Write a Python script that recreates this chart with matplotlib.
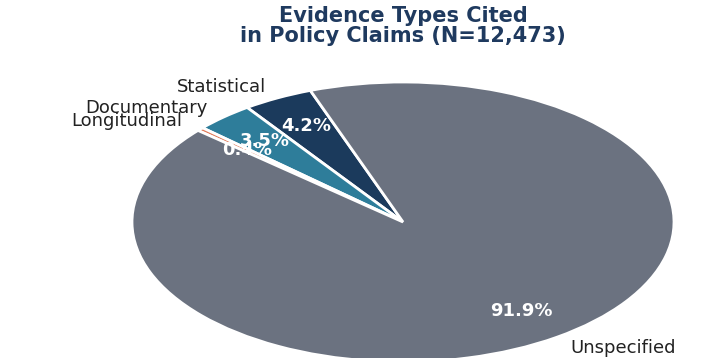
import matplotlib.pyplot as plt

labels = ['Statistical', 'Documentary', 'Longitudinal', 'Unspecified']
shares = [4.2, 3.5, 0.4, 91.9]
colors = ['#1b3a5c', '#2e7d9a', '#e07b5a', '#6b7280']

fig = plt.figure(figsize=(7.28, 3.58), dpi=100)
# pie box: centre (403, 222) px, radii 271 x 140 px
ax = fig.add_axes([(403 - 1.25 * 271) / 728, (358 - 222 - 1.25 * 140) / 358,
                   2.5 * 271 / 728, 2.5 * 140 / 358])

wedges, texts, autotexts = ax.pie(
    shares, labels=labels, colors=colors, startangle=110,
    autopct='%1.1f%%', pctdistance=0.77, labeldistance=1.09,
    wedgeprops=dict(edgecolor='white', linewidth=2),
    textprops=dict(fontsize=13, color='#222222'))
for t in autotexts:
    t.set_color('white')
    t.set_fontweight('bold')
    t.set_fontsize(13)

# stretched pie: let the axes aspect follow the box
ax.set_aspect('auto')
ax.set_xlim(-1.25, 1.25)
ax.set_ylim(-1.25, 1.25)
ax.axis('off')

fig.text(403 / 728, 1 - 26 / 358, 'Evidence Types Cited\nin Policy Claims (N=12,473)',
         ha='center', va='center', fontsize=15, fontweight='bold',
         color='#1f3a5f', linespacing=1.0)

fig.savefig('out.png', dpi=100)
